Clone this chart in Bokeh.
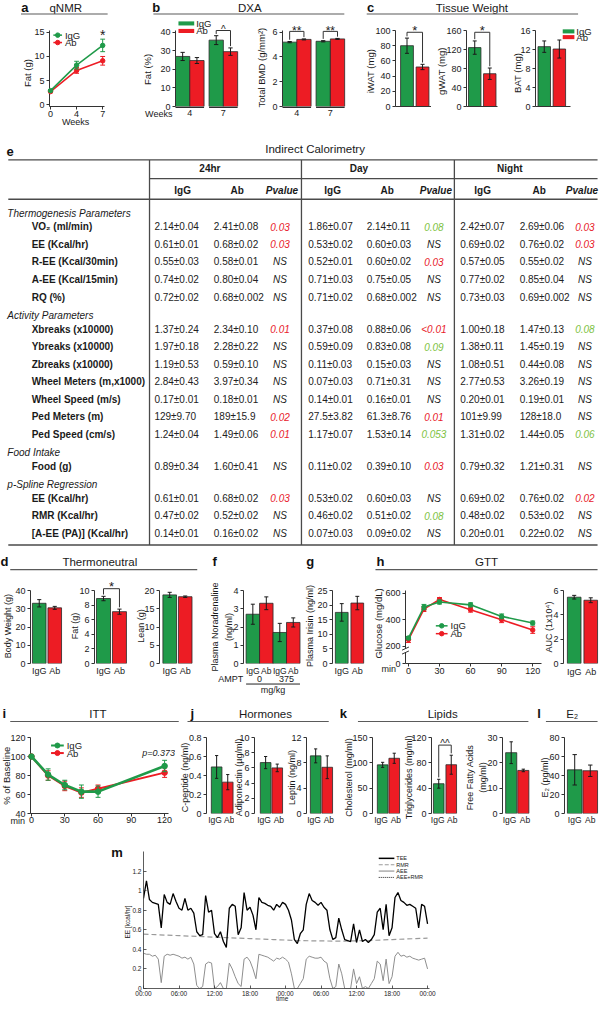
import math
import numpy as np
from bokeh.plotting import figure
from bokeh.models import Range1d, FixedTicker
from bokeh.layouts import row, column
from bokeh.embed import file_html
from bokeh.resources import INLINE
from bokeh.core.properties import value

# ============================ DATA ============================
GROUPS = ["IgG", "Ab"]

# a  qNMR
qnmr_weeks = ["0", "4", "7"]
qnmr_igg = [2.9, 8.2, 12.3]
qnmr_igg_err = [0.2, 0.8, 1.3]
qnmr_ab = [2.7, 7.1, 9.1]
qnmr_ab_err = [0.2, 0.6, 0.9]
qnmr_yticks = [0, 5, 10, 15]

# b  DXA
dxa_weeks = ["4", "7"]
dxa_fat_igg = [27.0, 35.8]
dxa_fat_igg_err = [2.2, 2.4]
dxa_fat_ab = [24.8, 29.6]
dxa_fat_ab_err = [1.6, 2.0]
dxa_fat_yticks = [0, 10, 20, 30, 40]
dxa_bmd_igg = [5.2, 5.27]
dxa_bmd_igg_err = [0.05, 0.05]
dxa_bmd_ab = [5.42, 5.46]
dxa_bmd_ab_err = [0.04, 0.04]
dxa_bmd_yticks = [0, 2, 4, 6]

# c  Tissue weight
iwat = [80, 52]
iwat_err = [10, 3.5]
iwat_yticks = [0, 20, 40, 60, 80, 100]
gwat = [124, 69]
gwat_err = [14, 12]
gwat_yticks = [0, 40, 80, 120, 160]
bat = [12.6, 12.1]
bat_err = [1.2, 1.9]
bat_yticks = [0, 4, 8, 12, 16]

# e  Indirect calorimetry table
table_sections = ["Thermogenesis Parameters", "Activity Parameters", "Food Intake", "p-Spline Regression"]
table_periods = ["24hr", "Day", "Night"]
table_columns = ["IgG", "Ab", "Pvalue"]
row_labels = ["VO\u2082 (ml/min)", "EE (Kcal/hr)", "R-EE (Kcal/30min)", "A-EE (Kcal/15min)", "RQ (%)",
              "Xbreaks (x10000)", "Ybreaks (x10000)", "Zbreaks (x10000)", "Wheel Meters (m,x1000)",
              "Wheel Speed (m/s)", "Ped Meters (m)", "Ped Speed (cm/s)",
              "Food (g)",
              "EE (Kcal/hr)", "RMR (Kcal/hr)", "[A-EE (PA)] (Kcal/hr)"]
row_section = [0, 0, 0, 0, 0, 1, 1, 1, 1, 1, 1, 1, 2, 3, 3, 3]
igg_24 = ["2.14\u00b10.04", "0.61\u00b10.01", "0.55\u00b10.03", "0.74\u00b10.02", "0.72\u00b10.02",
          "1.37\u00b10.24", "1.97\u00b10.18", "1.19\u00b10.53", "2.84\u00b10.43", "0.17\u00b10.01",
          "129\u00b19.70", "1.24\u00b10.04", "0.89\u00b10.34", "0.61\u00b10.01", "0.47\u00b10.02", "0.14\u00b10.01"]
ab_24 = ["2.41\u00b10.08", "0.68\u00b10.02", "0.58\u00b10.01", "0.80\u00b10.04", "0.68\u00b10.002",
         "2.34\u00b10.10", "2.28\u00b10.22", "0.59\u00b10.10", "3.97\u00b10.34", "0.18\u00b10.01",
         "189\u00b115.9", "1.49\u00b10.06", "1.60\u00b10.41", "0.68\u00b10.02", "0.52\u00b10.02", "0.16\u00b10.02"]
p_24 = ["0.03", "0.03", "NS", "NS", "NS", "0.01", "NS", "NS", "NS", "NS", "0.02", "0.01", "NS", "0.03", "NS", "NS"]
igg_day = ["1.86\u00b10.07", "0.53\u00b10.02", "0.52\u00b10.01", "0.71\u00b10.03", "0.71\u00b10.02",
           "0.37\u00b10.08", "0.59\u00b10.09", "0.11\u00b10.03", "0.07\u00b10.03", "0.14\u00b10.01",
           "27.5\u00b13.82", "1.17\u00b10.07", "0.11\u00b10.02", "0.53\u00b10.02", "0.46\u00b10.02", "0.07\u00b10.03"]
ab_day = ["2.14\u00b10.11", "0.60\u00b10.03", "0.60\u00b10.02", "0.75\u00b10.05", "0.68\u00b10.002",
          "0.88\u00b10.06", "0.83\u00b10.08", "0.15\u00b10.03", "0.71\u00b10.31", "0.16\u00b10.01",
          "61.3\u00b18.76", "1.53\u00b10.14", "0.39\u00b10.10", "0.60\u00b10.03", "0.51\u00b10.02", "0.09\u00b10.02"]
p_day = ["0.08", "NS", "0.03", "NS", "NS", "<0.01", "0.09", "NS", "NS", "NS", "0.01", "0.053", "0.03", "NS", "0.08", "NS"]
igg_night = ["2.42\u00b10.07", "0.69\u00b10.02", "0.57\u00b10.05", "0.77\u00b10.02", "0.73\u00b10.03",
             "1.00\u00b10.18", "1.38\u00b10.11", "1.08\u00b10.51", "2.77\u00b10.53", "0.20\u00b10.01",
             "101\u00b19.99", "1.31\u00b10.02", "0.79\u00b10.32", "0.69\u00b10.02", "0.48\u00b10.02", "0.20\u00b10.01"]
ab_night = ["2.69\u00b10.06", "0.76\u00b10.02", "0.55\u00b10.02", "0.85\u00b10.04", "0.69\u00b10.002",
            "1.47\u00b10.13", "1.45\u00b10.19", "0.44\u00b10.08", "3.26\u00b10.19", "0.19\u00b10.01",
            "128\u00b118.0", "1.44\u00b10.05", "1.21\u00b10.31", "0.76\u00b10.02", "0.53\u00b10.02", "0.22\u00b10.02"]
p_night = ["0.03", "0.03", "NS", "NS", "NS", "0.08", "NS", "NS", "NS", "NS", "NS", "0.06", "NS", "0.02", "NS", "NS"]

# d  Thermoneutral
tn_bw = [33.0, 30.5]
tn_bw_err = [2.0, 0.8]
tn_bw_yticks = [0, 10, 20, 30, 40]
tn_fat = [8.9, 7.1]
tn_fat_err = [0.3, 0.35]
tn_fat_yticks = [0, 2, 4, 6, 8, 10]
tn_lean = [18.8, 18.3]
tn_lean_err = [0.7, 0.2]
tn_lean_yticks = [0, 5, 10, 15, 20]

# f  Plasma noradrenaline (IgG, Ab at AMPT 0 and 375 mg/kg)
ampt_doses = ["0", "375"]
nora_igg = [2.7, 1.7]
nora_igg_err = [0.55, 0.5]
nora_ab = [3.3, 2.25]
nora_ab_err = [0.35, 0.25]
nora_yticks = [0, 1, 2, 3, 4]

# g  Plasma irisin
irisin = [17.5, 20.7]
irisin_err = [3.0, 2.3]
irisin_yticks = [0, 5, 10, 15, 20, 25]

# h  GTT
gtt_min = [0, 15, 30, 60, 90, 120]
gtt_igg = [262, 495, 533, 512, 425, 375]
gtt_igg_err = [12, 20, 15, 15, 18, 15]
gtt_ab = [250, 480, 552, 475, 400, 322]
gtt_ab_err = [22, 18, 15, 18, 22, 25]
gtt_yticks = [70, 200, 400, 600]
gtt_yticklabels = ["0", "200", "400", "600"]
gtt_xticks = [0, 30, 60, 90, 120]
gtt_auc = [5.45, 5.2]
gtt_auc_err = [0.15, 0.2]
auc_yticks = [0, 2, 4, 6]

# i  ITT
itt_min = [0, 15, 30, 45, 60, 120]
itt_igg = [100, 81, 70, 63, 63, 90]
itt_igg_err = [0, 6, 5, 7, 6, 6]
itt_ab = [100, 80, 69, 62, 66, 83]
itt_ab_err = [0, 5, 5, 5, 4, 5]
itt_yticks = [40, 60, 80, 100, 120]
itt_xticks = [0, 30, 60, 90, 120]
itt_p = "p=0.373"

# j  Hormones
cpep = [0.49, 0.33]
cpep_err = [0.12, 0.08]
cpep_yticks = [0, 0.2, 0.4, 0.6, 0.8]
cpep_yticklabels = ["0", "0.2", "0.4", "0.6", "0.8"]
adipo = [6.7, 6.0]
adipo_err = [0.8, 0.5]
adipo_yticks = [0, 2, 4, 6, 8, 10]
leptin = [9.1, 7.3]
leptin_err = [1.1, 1.8]
leptin_yticks = [0, 4, 8, 12]

# k  Lipids
chol = [96, 109]
chol_err = [5, 10]
chol_yticks = [0, 50, 100, 150]
tg = [47, 77]
tg_err = [7, 15]
tg_yticks = [0, 40, 80, 120]
ffa = [24, 17]
ffa_err = [4.3, 0.5]
ffa_yticks = [0, 10, 20, 30]

# l  E2
e2 = [46, 45]
e2_err = [16, 6]
e2_yticks = [0, 20, 40, 60, 80]

# m  Energy expenditure trace (half-hour readings over 48 h)
tee = [0.92, 1.10, 0.91, 0.88, 0.87, 0.86, 0.62, 0.96, 0.88, 0.86, 0.97, 0.89,
       0.82, 0.80, 0.92, 0.80, 0.82, 0.77, 0.58, 0.54, 0.55, 0.95, 0.78, 0.80,
       0.56, 0.52, 0.58, 0.48, 0.42, 0.82, 0.86, 0.84, 0.55, 0.62, 0.98, 0.80,
       0.83, 0.75, 0.60, 0.93, 0.88, 0.87, 0.85, 0.84, 0.80, 0.86, 0.83, 0.88,
       0.86, 0.80, 0.70, 0.50, 0.46, 0.56, 0.60, 0.86, 0.97, 0.90, 0.88, 0.85,
       0.88, 0.83, 0.80, 0.60, 0.50, 0.52, 0.72, 0.60, 0.50, 0.49, 0.48, 0.66,
       0.47, 0.60, 0.48, 0.50, 0.47, 0.50, 0.55, 0.78, 0.82, 0.60, 0.86, 0.54,
       0.62, 0.93, 0.98, 0.90, 0.88, 0.85, 0.86, 0.84, 0.82, 0.62, 0.86, 0.84,
       0.66]
aee = [0.36, 0.35, 0.35, 0.33, 0.34, 0.30, 0.06, 0.33, 0.35, 0.34, 0.35, 0.34,
       0.33, 0.31, 0.32, 0.30, 0.32, 0.25, 0.03, 0.00, 0.02, 0.25, 0.27, 0.26,
       0.00, 0.02, 0.06, 0.00, 0.00, 0.26, 0.20, 0.12, 0.05, 0.02, 0.30, 0.32,
       0.28, 0.20, 0.10, 0.35, 0.34, 0.33, 0.32, 0.30, 0.28, 0.31, 0.30, 0.32,
       0.30, 0.27, 0.15, 0.00, 0.00, 0.05, 0.10, 0.30, 0.33, 0.32, 0.31, 0.31,
       0.32, 0.28, 0.26, 0.10, 0.00, 0.02, 0.25, 0.15, 0.00, 0.00, 0.00, 0.20,
       0.05, 0.12, 0.00, 0.02, 0.00, 0.05, 0.10, 0.28, 0.25, 0.08, 0.30, 0.05,
       0.12, 0.33, 0.37, 0.33, 0.34, 0.32, 0.33, 0.31, 0.30, 0.29, 0.30, 0.31,
       0.20]
rmr = [0.555, 0.550, 0.545, 0.540, 0.535, 0.530, 0.525, 0.520, 0.515, 0.510, 0.505, 0.500,
       0.495, 0.490, 0.488, 0.486, 0.485, 0.485, 0.487, 0.490, 0.495, 0.500, 0.505, 0.510, 0.515]
m_series = ["TEE", "RMR", "AEE", "AEE+RMR"]
m_yticks = [0, 0.2, 0.4, 0.6, 0.8, 1.0, 1.2]
m_yticklabels = ["0", "0.2", "0.4", "0.6", "0.8", "1", "1.2"]
m_xticks = [0, 6, 12, 18, 24, 30, 36, 42, 48]
m_xticklabels = ["00:00", "06:00", "12:00", "18:00", "00:00", "06:00", "12:00", "18:00", "00:00"]

# ============================ STYLE / LAYOUT HELPERS ============================
FONT = "Liberation Sans"
GREEN = "#1f9a49"
RED = "#ed1c24"
EDGE = "#2a2a2a"
AXC = "#333333"
TXT = "#1a1a1a"
P_RED = "#e8202a"
P_GREEN = "#7dc242"
HDR = "#5a5a5a"
PI2 = math.pi / 2

SX = 599.0 / 615.0
SY = 1003.0 / 1020.0


def XP(v):
    return int(round(v * SX))


def YP(v):
    return int(round(v * SY))


class Panel:
    def __init__(self, box, frame=None, xr=None, yr=None, axes=True):
        bx0, by0, bx1, by1 = box
        frame = frame or box
        fx0, fy0, fx1, fy1 = frame
        xr = xr or (bx0, bx1)
        yr = yr or (by1, by0)
        self.frame, self.xr, self.yr = frame, xr, yr
        kw = dict(width=XP(bx1) - XP(bx0), height=YP(by1) - YP(by0),
                  x_range=Range1d(*xr), y_range=Range1d(*yr),
                  min_border_left=XP(fx0) - XP(bx0), min_border_right=XP(bx1) - XP(fx1),
                  min_border_top=YP(fy0) - YP(by0), min_border_bottom=YP(by1) - YP(fy1),
                  output_backend="svg", toolbar_location=None)
        if not axes:
            kw["x_axis_location"] = None
            kw["y_axis_location"] = None
        p = figure(**kw)
        p.outline_line_color = None
        p.xgrid.visible = False
        p.ygrid.visible = False
        p.border_fill_color = "white"
        p.background_fill_color = "white"
        self.p = p

    def dx(self, px):
        fx0, _, fx1, _ = self.frame
        return self.xr[0] + (px - fx0) * (self.xr[1] - self.xr[0]) / (fx1 - fx0)

    def dy(self, py):
        _, fy0, _, fy1 = self.frame
        return self.yr[0] + (fy1 - py) * (self.yr[1] - self.yr[0]) / (fy1 - fy0)

    def px_x(self, x):
        fx0, _, fx1, _ = self.frame
        return fx0 + (x - self.xr[0]) * (fx1 - fx0) / (self.xr[1] - self.xr[0])

    def px_y(self, y):
        _, fy0, _, fy1 = self.frame
        return fy1 - (y - self.yr[0]) * (fy1 - fy0) / (self.yr[1] - self.yr[0])

    def texts(self, items, size=9.0, align="center", baseline="middle", color=TXT,
              style="normal", angle=0.0):
        if not items:
            return
        self.p.text(x=[self.dx(i[0]) for i in items], y=[self.dy(i[1]) for i in items],
                    text=[i[2] for i in items], text_font=value(FONT),
                    text_font_size=f"{size}px", text_align=align, text_baseline=baseline,
                    text_color=color, text_font_style=style, angle=angle, level="overlay")

    def segs(self, items, color=AXC, width=1.0, dash="solid"):
        self.p.segment(x0=[self.dx(a) for a, b, c, d in items], y0=[self.dy(b) for a, b, c, d in items],
                       x1=[self.dx(c) for a, b, c, d in items], y1=[self.dy(d) for a, b, c, d in items],
                       line_color=color, line_width=width, line_dash=dash, level="overlay")

    def quads(self, items, color, line_color=None):
        self.p.quad(left=[self.dx(a) for a, b, c, d in items], right=[self.dx(c) for a, b, c, d in items],
                    top=[self.dy(b) for a, b, c, d in items], bottom=[self.dy(d) for a, b, c, d in items],
                    fill_color=color, line_color=line_color, level="overlay")


def style_y(pn, ticks, labels=None, size=9, tick_in=0, tick_out=3, standoff=2, width=1.0):
    ax = pn.p.yaxis[0]
    ax.ticker = FixedTicker(ticks=list(ticks))
    labels = labels if labels is not None else [str(t) for t in ticks]
    ax.major_label_overrides = {t: l for t, l in zip(ticks, labels)}
    ax.major_tick_in = tick_in
    ax.major_tick_out = tick_out
    ax.minor_tick_line_color = None
    ax.axis_line_color = AXC
    ax.axis_line_width = width
    ax.major_tick_line_color = AXC
    ax.major_tick_line_width = width
    ax.major_label_text_font = FONT
    ax.major_label_text_font_size = f"{size}px"
    ax.major_label_text_color = TXT
    ax.major_label_standoff = standoff


def style_x(pn, ticks, labels, standoff=2, line=False, tick_out=0, tick_in=0, size=9, width=1.0):
    ax = pn.p.xaxis[0]
    ax.ticker = FixedTicker(ticks=list(ticks))
    ax.major_label_overrides = {t: l for t, l in zip(ticks, labels)}
    ax.major_tick_in = tick_in
    ax.major_tick_out = tick_out
    ax.minor_tick_line_color = None
    ax.major_tick_line_color = AXC if (line and (tick_out or tick_in)) else None
    ax.major_tick_line_width = width
    ax.axis_line_color = AXC if line else None
    ax.axis_line_width = width
    ax.major_label_text_font = FONT
    ax.major_label_text_font_size = f"{size}px"
    ax.major_label_text_color = TXT
    ax.major_label_standoff = standoff


def bars(pn, pos, vals, errs, colors, width=1.0, cap=0.3):
    p = pn.p
    p.vbar(x=pos, top=vals, bottom=0, width=width, fill_color=colors, line_color=EDGE, line_width=0.8)
    hi = [v + e for v, e in zip(vals, errs)]
    lo = [v - e for v, e in zip(vals, errs)]
    p.segment(x0=pos, y0=lo, x1=pos, y1=hi, line_color="#1a1a1a", line_width=1)
    p.segment(x0=[x - cap / 2 for x in pos], y0=hi, x1=[x + cap / 2 for x in pos], y1=hi,
              line_color="#1a1a1a", line_width=1)
    p.segment(x0=[x - cap / 2 for x in pos], y0=lo, x1=[x + cap / 2 for x in pos], y1=lo,
              line_color="#1a1a1a", line_width=1)


def line_series(pn, xs, ys, errs, color, lw=1.5, msize=4.5, cap_px=2.5):
    p = pn.p
    hi = [v + e for v, e in zip(ys, errs)]
    lo = [v - e for v, e in zip(ys, errs)]
    cw = cap_px * (pn.xr[1] - pn.xr[0]) / (pn.frame[2] - pn.frame[0])
    p.segment(x0=xs, y0=lo, x1=xs, y1=hi, line_color=color, line_width=1, level="overlay")
    p.segment(x0=[x - cw for x in xs], y0=hi, x1=[x + cw for x in xs], y1=hi, line_color=color,
              line_width=1, level="overlay")
    p.segment(x0=[x - cw for x in xs], y0=lo, x1=[x + cw for x in xs], y1=lo, line_color=color,
              line_width=1, level="overlay")
    p.line(xs, ys, line_color=color, line_width=lw, level="overlay")
    p.scatter(xs, ys, size=msize, fill_color=color, line_color=color, level="overlay")


def bracket(pn, xa, xb, ya, yb, top_px, label, lsize=13, ldy=-2):
    x0, x1 = pn.px_x(xa), pn.px_x(xb)
    y0, y1 = pn.px_y(ya) - 2, pn.px_y(yb) - 2
    pn.segs([(x0, y0, x0, top_px), (x0, top_px, x1, top_px), (x1, top_px, x1, y1)], color="#333", width=1)
    pn.texts([((x0 + x1) / 2, top_px + ldy, label)], size=lsize)


def legend_boxes(pn, items, x0, x1, ys, h, tx, size=9.5):
    for (col, lab), y in zip(items, ys):
        pn.quads([(x0, y - h / 2, x1, y + h / 2)], col)
    pn.texts([(tx, y, lab) for (col, lab), y in zip(items, ys)], size=size, align="left")


def legend_lines(pn, items, x0, x1, ys, tx, size=9.5, lw=1.5, msize=4.5):
    for (col, lab), y in zip(items, ys):
        pn.segs([(x0, y, x1, y)], color=col, width=lw)
        pn.p.scatter([pn.dx((x0 + x1) / 2)], [pn.dy(y)], size=msize, fill_color=col, line_color=col,
                     level="overlay")
    pn.texts([(tx, y, lab) for (col, lab), y in zip(items, ys)], size=size, align="left")


def pair_panel(box, frame, unit, spacing, vals, errs, yticks, ylabel, ylab_xy, xlabels=True,
               standoff=2, width=1.0, ylabels=None, xline=False, lsize=9, lab_shift=0.0, xsize=9):
    fx0, fy0, fx1, fy1 = frame
    ig_center = fx0 + ylab_xy[2]
    start = -(ig_center - fx0) / unit
    end = start + (fx1 - fx0) / unit
    pn = Panel(box, frame, (start, end), (yticks[0], yticks[-1]))
    pos = [i * spacing for i in range(len(vals))]
    bars(pn, pos, vals, errs, [GREEN, RED], width)
    style_y(pn, yticks, ylabels)
    if xlabels:
        lab_pos = [pos[0] - lab_shift, pos[1] + lab_shift]
        style_x(pn, lab_pos, GROUPS, standoff=standoff, size=xsize)
    else:
        style_x(pn, [], [], line=xline)
    if isinstance(ylabel, tuple):
        pn.texts([(ylab_xy[0], ylab_xy[1], ylabel[0]), (ylab_xy[0] + 14, ylab_xy[1], ylabel[1])],
                 size=lsize, angle=PI2)
    else:
        pn.texts([(ylab_xy[0], ylab_xy[1], ylabel)], size=lsize, angle=PI2)
    return pn, pos


# ============================ BAND A: headers a, b, c ============================
A = Panel((0, 0, 615, 16), axes=False)
A.texts([(25, 7, "a"), (160, 7, "b"), (380, 7, "c")], size=13, style="bold", color="#111")
A.texts([(67, 7, "qNMR"), (256, 7, "DXA"), (484, 7, "Tissue Weight")], size=11.5)
A.segs([(21, 13.5, 110, 13.5), (157, 13.5, 353, 13.5), (376, 13.5, 593, 13.5)], color=HDR, width=1.2)

# ============================ BAND B ============================
# a qNMR
pa = Panel((0, 16, 140, 132), (50, 26, 107, 108), (-0.04, 2.07), (-0.4, 15.4))
qx = list(range(len(qnmr_weeks)))
line_series(pa, qx, qnmr_ab, qnmr_ab_err, RED)
line_series(pa, qx, qnmr_igg, qnmr_igg_err, GREEN)
style_y(pa, qnmr_yticks)
style_x(pa, qx, qnmr_weeks, standoff=1, line=True, tick_out=3)
pa.texts([(77, 125, "Weeks")], size=9)
pa.texts([(27, 72, "Fat (g)")], size=9.5, angle=PI2)
legend_lines(pa, [(GREEN, GROUPS[0]), (RED, GROUPS[1])], 54, 63, [31, 39], 66)
pa.texts([(pa.px_x(qx[-1]), pa.px_y(qnmr_igg[-1] + qnmr_igg_err[-1]) - 5, "*")], size=14)

# b DXA fat %
GAP = 2.35


def grouped(igg, igg_e, ab, ab_e):
    pos, vals, errs, cols = [], [], [], []
    for g in range(len(igg)):
        for s, (v, e, c) in enumerate(((igg, igg_e, GREEN), (ab, ab_e, RED))):
            pos.append(g * GAP + s)
            vals.append(v[g])
            errs.append(e[g])
            cols.append(c)
    return pos, vals, errs, cols


pb1 = Panel((140, 16, 255, 132), (180, 31, 246, 117), (-0.5, 4.05), (0, 41))
pos, vals, errs, cols = grouped(dxa_fat_igg, dxa_fat_igg_err, dxa_fat_ab, dxa_fat_ab_err)
bars(pb1, pos, vals, errs, cols)
style_y(pb1, dxa_fat_yticks)
centers = [g * GAP + 0.5 for g in range(len(dxa_weeks))]
style_x(pb1, centers, dxa_weeks, standoff=3)
pb1.segs([(pb1.px_x(g * GAP - 0.5), 118, pb1.px_x(g * GAP + 1.5), 118) for g in range(len(dxa_weeks))],
         color="#111", width=1)
pb1.texts([(163, 125, "Weeks")], size=9)
pb1.texts([(152, 75, "Fat (%)")], size=9.5, angle=PI2)
legend_boxes(pb1, [(GREEN, GROUPS[0]), (RED, GROUPS[1])], 183, 199, [23, 31.5], 4.6, 201)
bracket(pb1, pos[2], pos[3], vals[2] + errs[2], vals[3] + errs[3], 31, "^", lsize=10, ldy=-1)

# b DXA BMD
pb2 = Panel((255, 16, 362, 132), (290, 31, 355, 117), (-0.5, 3.98), (0, 6.14))
pos, vals, errs, cols = grouped(dxa_bmd_igg, dxa_bmd_igg_err, dxa_bmd_ab, dxa_bmd_ab_err)
bars(pb2, pos, vals, errs, cols)
style_y(pb2, dxa_bmd_yticks)
style_x(pb2, centers, dxa_weeks, standoff=3)
pb2.segs([(pb2.px_x(g * GAP - 0.5), 118, pb2.px_x(g * GAP + 1.5), 118) for g in range(len(dxa_weeks))],
         color="#111", width=1)
pb2.texts([(269, 73, "Total BMD (g/mm\u00b2)")], size=9.5, angle=PI2)
for g in range(len(dxa_weeks)):
    bracket(pb2, pos[2 * g], pos[2 * g + 1], vals[2 * g] + errs[2 * g], vals[2 * g + 1] + errs[2 * g + 1],
            32, "**", lsize=12, ldy=-1)

# c Tissue weight
pc1, cpos = pair_panel((362, 16, 443, 132), (406, 31, 442, 117), 13.5, 1.15, iwat, iwat_err, iwat_yticks,
                       "iWAT (mg)", (381, 77, 11.5), xlabels=False, width=0.95, xline=True, lsize=9.5)
bracket(pc1, cpos[0], cpos[1], iwat[0] + iwat_err[0], iwat[1] + iwat_err[1], 33, "*", lsize=13)
pc2, cpos = pair_panel((443, 16, 518, 132), (478, 31, 510, 117), 13.5, 1.15, gwat, gwat_err, gwat_yticks,
                       "gWAT (mg)", (452, 77, 8.5), xlabels=False, width=0.95, xline=True, lsize=9.5)
bracket(pc2, cpos[0], cpos[1], gwat[0] + gwat_err[0], gwat[1] + gwat_err[1], 33, "*", lsize=13)
pc3, cpos = pair_panel((518, 16, 615, 132), (549, 31, 585, 117), 13.5, 1.15, bat, bat_err, bat_yticks,
                       "BAT (mg)", (530, 79, 9.0), xlabels=False, width=0.95, xline=True, lsize=9.5)
legend_boxes(pc3, [(GREEN, GROUPS[0]), (RED, GROUPS[1])], 577, 589, [32, 38.5], 4.6, 591)

# ============================ BAND C: table e + d/f/g/h headers ============================
C = Panel((0, 132, 615, 582), axes=False)
C.texts([(10, 153, "e")], size=13, style="bold", color="#111")
C.texts([(323, 151, "Indirect Calorimetry")], size=11.5)
C.segs([(8, 162, 613, 162), (153, 181, 613, 181), (8, 202, 613, 202), (8, 554, 613, 554),
        (153, 162, 153, 554), (309, 162, 309, 554), (466, 162, 466, 554)], color="#4a4a4a", width=1.3)
period_x = [215, 368, 523]
C.texts([(x, 171, t) for x, t in zip(period_x, table_periods)], size=10, style="bold")
sub_x = [[187, 243, 289], [341, 397, 447], [495, 553, 597]]
C.texts([(sx[0], 193, table_columns[0]) for sx in sub_x] + [(sx[1], 193, table_columns[1]) for sx in sub_x],
        size=10, style="bold")
C.texts([(sx[2], 193, table_columns[2]) for sx in sub_x], size=10, style="bold italic")

# row positions from table structure
row_y, sec_y = [], []
y = None
prev = None
for s in row_section:
    if s != prev:
        y = 216 if y is None else y + 18.5
        sec_y.append(y)
        y += 14
    else:
        y += 17.9
    row_y.append(y)
    prev = s
C.texts([(7, yy, t) for yy, t in zip(sec_y, table_sections)], size=10, align="left", style="italic")
C.texts([(32, yy, t) for yy, t in zip(row_y, row_labels)], size=10, align="left", style="bold")

val_x = [(158, 219, 287), (316, 376, 445), (472, 533, 600)]
period_data = [(igg_24, ab_24, p_24), (igg_day, ab_day, p_day), (igg_night, ab_night, p_night)]
num_items = []
pv_items, pv_cols = [], []
for (xi, xa, xp), (ig, ab, pv) in zip(val_x, period_data):
    for yy, a, b, pp in zip(row_y, ig, ab, pv):
        num_items.append((xi, yy, a))
        num_items.append((xa, yy, b))
        pv_items.append((xp, yy, pp))
        if pp == "NS":
            pv_cols.append(TXT)
        elif float(pp.strip("<")) < 0.05:
            pv_cols.append(P_RED)
        else:
            pv_cols.append(P_GREEN)
C.texts(num_items, size=10, align="left", color="#222")
C.texts(pv_items, size=10, style="italic", color=pv_cols)

C.texts([(4, 571, "d"), (220, 571, "f"), (318, 571, "g"), (390, 571, "h")], size=13, style="bold", color="#111")
C.texts([(102, 571, "Thermoneutral"), (499, 571, "GTT")], size=11.5)
C.segs([(10, 579, 202, 579), (385, 579, 613, 579)], color=HDR, width=1.2)

# ============================ BAND D ============================
pd1, _ = pair_panel((0, 582, 70, 716), (31, 600, 66, 680), 14, 1.14, tn_bw, tn_bw_err, tn_bw_yticks,
                    "Body Weight (g)", (8, 639, 9), standoff=2)
pd2, dpos = pair_panel((70, 582, 135, 716), (97, 600, 131, 680), 14, 1.14, tn_fat, tn_fat_err, tn_fat_yticks,
                       "Fat (g)", (77, 639, 9), standoff=2)
bracket(pd2, dpos[0], dpos[1], tn_fat[0] + tn_fat_err[0], tn_fat[1] + tn_fat_err[1], 598, "*", lsize=13)
pd3, _ = pair_panel((135, 582, 210, 716), (163, 600, 198, 680), 14, 1.14, tn_lean, tn_lean_err,
                    tn_lean_yticks, "Lean (g)", (143.5, 639, 10.5), standoff=2)

# f noradrenaline
pf = Panel((210, 582, 312, 716), (250, 600, 310, 680), (-0.693, 3.686), (nora_yticks[0], nora_yticks[-1]))
fpos, fvals, ferrs, fcols, flabs = [], [], [], [], []
for d in range(len(ampt_doses)):
    for s, (v, e, c) in enumerate(((nora_igg, nora_igg_err, GREEN), (nora_ab, nora_ab_err, RED))):
        fpos.append(2 * d + s)
        fvals.append(v[d])
        ferrs.append(e[d])
        fcols.append(c)
        flabs.append(GROUPS[s])
bars(pf, fpos, fvals, ferrs, fcols)
style_y(pf, nora_yticks)
style_x(pf, fpos, flabs, standoff=2, size=8.5)
pf.texts([(221, 640, "Plasma Noradrenaline"), (235, 640, "(ng/ml)")], size=9, angle=PI2)
pf.texts([(237, 697, "AMPT")] + [(pf.px_x(2 * d + 0.5), 697, t) for d, t in enumerate(ampt_doses)], size=9)
pf.segs([(pf.px_x(-0.5), 702.5, pf.px_x(3.5), 702.5)], color="#222", width=1)
pf.texts([(pf.px_x(1.5), 709.5, "mg/kg")], size=9)

# g irisin
pg, _ = pair_panel((312, 582, 381, 716), (341, 600, 377, 680), 13.5, 1.185, irisin, irisin_err,
                   irisin_yticks, "Plasma Irisin (ng/ml)", (318, 639, 9.5), standoff=2, width=0.97)

# h GTT
ph = Panel((381, 582, 557, 716), (416, 588, 555, 681), (-2.84, 128.5), (70, 620))
line_series(ph, gtt_min, gtt_ab, gtt_ab_err, RED, lw=1.6)
line_series(ph, gtt_min, gtt_igg, gtt_igg_err, GREEN, lw=1.6)
style_y(ph, gtt_yticks, gtt_yticklabels)
style_x(ph, gtt_xticks, [str(t) for t in gtt_xticks], standoff=1, line=True, tick_out=3)
ph.texts([(388, 630, "Glucose (mg/dL)")], size=9.5, angle=PI2)
ph.texts([(399, 688, "min")], size=9)
ph.quads([(414, 662, 418.5, 667)], "white")
ph.segs([(412.5, 664, 419.5, 660), (412.5, 669, 419.5, 665)], color="#333", width=1)
legend_lines(ph, [(GREEN, GROUPS[0]), (RED, GROUPS[1])], 447, 459, [633, 643], 462)

# h AUC
pauc, _ = pair_panel((557, 582, 615, 716), (578, 600, 615, 674), 14, 1.214, gtt_auc, gtt_auc_err,
                     auc_yticks, "AUC (1x10\u2074)", (563, 637, 11), standoff=3)

# ============================ BAND E: headers i, j, k, l ============================
E = Panel((0, 716, 615, 736), axes=False)
E.texts([(4, 725, "i"), (197, 725, "j"), (352, 725, "k"), (553, 725, "l")], size=13, style="bold", color="#111")
E.texts([(100, 725, "ITT"), (272, 725, "Hormones"), (454, 725, "Lipids"), (587, 725, "E\u2082")], size=11.5)
E.segs([(10, 733, 183, 733), (192, 733, 337, 733), (367, 733, 542, 733), (560, 733, 613, 733)],
       color=HDR, width=1.2)

# ============================ BAND F ============================
pi_ = Panel((0, 736, 180, 848), (31, 741, 172, 826.5), (-0.88, 123.5), (40, 120))
line_series(pi_, itt_min, itt_ab, itt_ab_err, RED, lw=2.0, msize=5.5)
line_series(pi_, itt_min, itt_igg, itt_igg_err, GREEN, lw=2.6, msize=5.5)
style_y(pi_, itt_yticks)
style_x(pi_, itt_xticks, [str(t) for t in itt_xticks], standoff=0, line=True, tick_out=3)
pi_.texts([(6, 784, "% of Baseline")], size=9.5, angle=PI2)
pi_.texts([(18, 835, "min")], size=9)
pi_.texts([(162, 758, itt_p)], size=9, style="italic")
legend_lines(pi_, [(GREEN, GROUPS[0]), (RED, GROUPS[1])], 52, 65, [750, 758.5], 68, lw=2, msize=5)

pj1, _ = pair_panel((180, 736, 240, 848), (211, 749, 240, 829), 11, 1.045, cpep, cpep_err, cpep_yticks,
                    "C-peptide (ng/ml)", (189, 791, 10.5), standoff=1, ylabels=cpep_yticklabels,
                    lab_shift=0.15, xsize=8.5)
pj2, _ = pair_panel((240, 736, 294, 848), (261, 749, 292, 829), 11, 1.09, adipo, adipo_err, adipo_yticks,
                    "Adiponectin (\u00b5g/ml)", (245, 791, 11.5), standoff=1, lab_shift=0.15, xsize=8.5)
pj3, _ = pair_panel((294, 736, 352, 848), (314, 749, 343, 829), 11, 1.09, leptin, leptin_err, leptin_yticks,
                    "Leptin (ng/ml)", (299, 791, 9.5), standoff=1, lab_shift=0.15, xsize=8.5)
pk1, _ = pair_panel((352, 736, 414, 848), (382, 749, 412, 829), 11, 1.09, chol, chol_err, chol_yticks,
                    "Cholesterol (mg/ml)", (358, 791, 10.5), standoff=1, lab_shift=0.15, xsize=8.5)
pk2, kpos = pair_panel((414, 736, 472, 848), (442, 749, 470, 829), 11, 1.18, tg, tg_err, tg_yticks,
                       "Triglycerides (mg/ml)", (419, 791, 7.5), standoff=1, lab_shift=0.1, xsize=8.5)
bracket(pk2, kpos[0], kpos[1], tg[0] + tg_err[0], tg[1] + tg_err[1], 757, "^^", lsize=10, ldy=-2)
pk3, _ = pair_panel((472, 736, 548, 848), (515, 749, 545, 829), 11.5, 1.09, ffa, ffa_err, ffa_yticks,
                    ("Free Fatty Acids", "(mg/ml)"), (481, 791, 9), standoff=1, lab_shift=0.15, xsize=8.5)
pl, _ = pair_panel((548, 736, 615, 848), (579, 749, 615, 829), 15, 1.067, e2, e2_err, e2_yticks,
                   "E\u2082 (pg/ml)", (559, 791, 10.5), standoff=1, xsize=8.5)

# ============================ BAND G: m ============================
pm = Panel((0, 848, 615, 1020), (147, 865, 440, 1005), (0, 48.33), (0, 1.4))
hours = [0.5 * i for i in range(len(tee))]
rmr_hours = [2 * i for i in range(len(rmr))]
pm.p.line(hours, aee, line_color="#8e8e8e", line_width=1)
pm.p.line(rmr_hours, rmr, line_color="#9a9a9a", line_width=1.2, line_dash="5 3")
pm.p.line(hours, tee, line_color="#000000", line_width=1.3)
style_y(pm, m_yticks, m_yticklabels, size=6.5, tick_in=3, tick_out=0, standoff=2, width=0.8)
style_x(pm, m_xticks, m_xticklabels, standoff=1, line=True, tick_in=3, tick_out=0, size=6.5, width=0.8)
pm.p.xaxis[0].major_tick_line_color = AXC
pm.texts([(120, 866, "m")], size=13, style="bold", color="#111")
pm.texts([(131, 937, "EE [kcal/hr]")], size=6.5, angle=PI2)
pm.texts([(289, 1015.5, "time")], size=6.5)
leg_y = [872, 878.5, 885, 891.5]
pm.segs([(388, leg_y[0], 404, leg_y[0])], color="#000", width=1.5)
pm.segs([(388, leg_y[1], 404, leg_y[1])], color="#9a9a9a", width=1.1, dash="4 2")
pm.segs([(388, leg_y[2], 404, leg_y[2])], color="#8e8e8e", width=1.1)
pm.segs([(388, leg_y[3], 404, leg_y[3])], color="#222", width=1.0, dash="1 1")
pm.texts([(406, y, t) for y, t in zip(leg_y, m_series)], size=5.5, align="left")

# ============================ PAGE ============================
layout = column(
    row(A.p),
    row(pa.p, pb1.p, pb2.p, pc1.p, pc2.p, pc3.p),
    row(C.p),
    row(pd1.p, pd2.p, pd3.p, pf.p, pg.p, ph.p, pauc.p),
    row(E.p),
    row(pi_.p, pj1.p, pj2.p, pj3.p, pk1.p, pk2.p, pk3.p, pl.p),
    row(pm.p),
)

open("out.html", "w").write(file_html(layout, INLINE))
